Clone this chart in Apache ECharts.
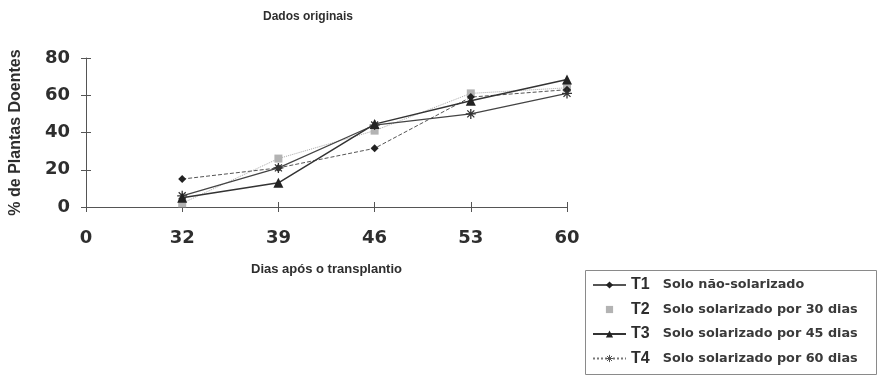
<!DOCTYPE html>
<html>
<head>
<meta charset="utf-8">
<title>Dados originais</title>
<script src="https://cdn.jsdelivr.net/npm/echarts@6/dist/echarts.min.js"></script>
<style>
  html, body { margin: 0; padding: 0; background: #fff; }
  #chart { width: 885px; height: 381px; }
</style>
</head>
<body>
<div id="chart"></div>
<script>
// Days after transplanting (the leading "0" marks the origin only)
var dias = ['0', '32', '39', '46', '53', '60'];

// % of diseased plants per treatment
var t1 = [null, 15, 21, 31.5, 59, 63];
var t2 = [null, 2, 26, 41, 61, 64];
var t3 = [null, 5, 13, 44.5, 57, 68.5];
var t4 = [null, 6, 21, 44, 50, 61];

var yTicks = [0, 20, 40, 60, 80];

var descricoes = {
  T1: 'Solo não-solarizado',
  T2: 'Solo solarizado por 30 dias',
  T3: 'Solo solarizado por 45 dias',
  T4: 'Solo solarizado por 60 dias'
};

var ink = '#2e2e2e';
var starPath = 'path://M5,0 L5,10 M0,5 L10,5 M1.5,1.5 L8.5,8.5 M8.5,1.5 L1.5,8.5';

var chart = echarts.init(document.getElementById('chart'), null, { renderer: 'canvas' });

chart.setOption({
  backgroundColor: '#ffffff',
  animation: false,
  graphic: [
    {
      type: 'text',
      left: 263, top: 11,
      style: {
        text: 'Dados originais',
        fill: ink,
        font: 'bold 12px "Liberation Sans", Arial, sans-serif'
      }
    },
    {
      type: 'rect',
      shape: { x: 585.5, y: 270.5, width: 291, height: 104 },
      style: { fill: 'none', stroke: '#8a8a8a', lineWidth: 1 },
      z: 0
    }
  ],
  grid: { left: 85, top: 58, right: 318, bottom: 174 },
  legend: {
    orient: 'vertical',
    left: 592,
    top: 277,
    itemWidth: 33,
    itemHeight: 9,
    itemGap: 8.5,
    padding: 0,
    data: [
      { name: 'T1', lineStyle: { type: 'solid' } },
      { name: 'T2', lineStyle: { opacity: 0 } },
      { name: 'T3' },
      {
        name: 'T4',
        itemStyle: { color: 'rgba(0,0,0,0)', borderColor: '#555', borderWidth: 1 },
        lineStyle: { type: 'dotted', color: '#777' }
      }
    ],
    formatter: function (name) {
      return '{t|' + name + '}{d|' + descricoes[name] + '}';
    },
    textStyle: {
      color: ink,
      rich: {
        t: { fontSize: 16, fontWeight: 'bold', fontFamily: '"Liberation Sans", Arial, sans-serif', color: ink, padding: [0, 13, 0, 0], lineHeight: 16 },
        d: { fontSize: 12.8, fontWeight: 'bold', fontFamily: '"DejaVu Sans", sans-serif', color: '#3a3a3a', lineHeight: 16 }
      }
    }
  },
  xAxis: [
    {
      type: 'category',
      data: dias,
      boundaryGap: false,
      name: 'Dias após o transplantio',
      nameLocation: 'middle',
      nameGap: 56,
      nameTextStyle: { color: ink, fontSize: 13, fontWeight: 'bold', fontFamily: '"Liberation Sans", Arial, sans-serif' },
      axisLine: { lineStyle: { color: '#555', width: 1 } },
      axisTick: { show: true, length: 5, lineStyle: { color: '#555' }, alignWithLabel: true },
      axisLabel: {
        margin: 22,
        color: ink,
        fontSize: 18,
        fontWeight: 'bold',
        fontFamily: '"DejaVu Sans", sans-serif'
      },
      splitLine: { show: false }
    },
    {
      // inner half of the crossing tick marks
      type: 'category',
      data: dias,
      boundaryGap: false,
      position: 'bottom',
      axisLine: { show: false },
      axisTick: { show: true, inside: true, length: 5, lineStyle: { color: '#555' } },
      axisLabel: { show: false },
      splitLine: { show: false }
    }
  ],
  yAxis: [
    {
      type: 'value',
      min: yTicks[0],
      max: yTicks[yTicks.length - 1],
      interval: 20,
      name: '% de Plantas Doentes',
      nameLocation: 'middle',
      nameRotate: 90,
      nameGap: 62,
      nameTextStyle: { color: ink, fontSize: 16, fontWeight: 'bold', fontFamily: '"Liberation Sans", Arial, sans-serif' },
      axisLine: { show: true, lineStyle: { color: '#555', width: 1 } },
      axisTick: { show: true, length: 5, lineStyle: { color: '#555' } },
      axisLabel: {
        margin: 16,
        color: ink,
        fontSize: 18,
        fontWeight: 'bold',
        fontFamily: '"DejaVu Sans", sans-serif'
      },
      splitLine: { show: false }
    },
    {
      type: 'value',
      min: yTicks[0],
      max: yTicks[yTicks.length - 1],
      interval: 20,
      position: 'left',
      axisLine: { show: false },
      axisTick: { show: true, inside: true, length: 5, lineStyle: { color: '#555' } },
      axisLabel: { show: false },
      splitLine: { show: false }
    }
  ],
  series: [
    {
      name: 'T2',
      type: 'line',
      data: t2,
      symbol: 'rect',
      symbolSize: 8,
      itemStyle: { color: '#b3b3b3' },
      lineStyle: { color: '#a8a8a8', width: 1, type: 'dotted' },
      z: 2
    },
    {
      name: 'T1',
      type: 'line',
      data: t1,
      symbol: 'diamond',
      symbolSize: 8,
      itemStyle: { color: '#222' },
      lineStyle: { color: '#555', width: 1, type: 'dashed' },
      z: 3
    },
    {
      name: 'T4',
      type: 'line',
      data: t4,
      symbol: starPath,
      symbolSize: 10,
      itemStyle: { color: 'rgba(0,0,0,0)', borderColor: '#333', borderWidth: 1.3 },
      lineStyle: { color: '#444', width: 1.2, type: 'solid' },
      z: 4
    },
    {
      name: 'T3',
      type: 'line',
      data: t3,
      symbol: 'triangle',
      symbolSize: 10,
      itemStyle: { color: '#222' },
      lineStyle: { color: '#333', width: 1.5 },
      z: 5
    }
  ]
});
</script>
</body>
</html>
